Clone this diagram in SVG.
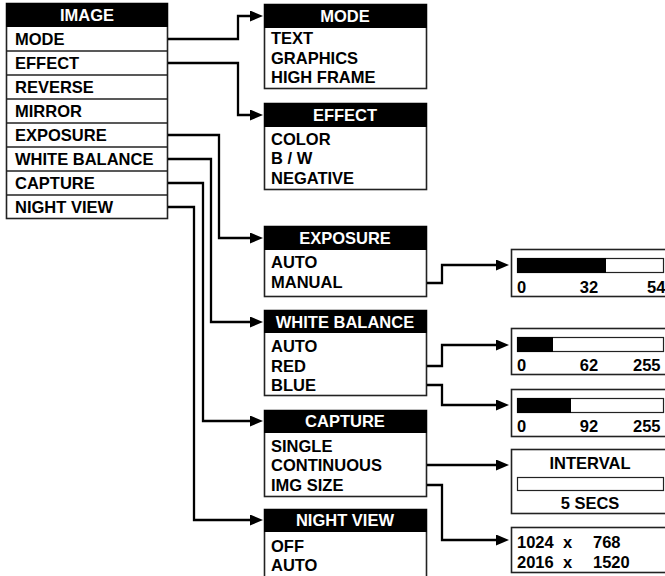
<svg xmlns="http://www.w3.org/2000/svg" width="665" height="576" viewBox="0 0 665 576">
<defs>
<style>
text{font-family:"Liberation Sans",Arial,sans-serif;font-weight:bold;font-size:16.5px;fill:#000}
.h{fill:#fff;text-anchor:middle}
.c{text-anchor:middle}
.box{fill:#fff;stroke:#222;stroke-width:1.6}
.hd{fill:#000}
.div{stroke:#222;stroke-width:1.6}
.ln{fill:none;stroke:#000;stroke-width:2.3;stroke-linejoin:miter}
.bar{fill:#fff;stroke:#222;stroke-width:1.2}
</style>
<marker id="ar" markerUnits="userSpaceOnUse" markerWidth="15" markerHeight="12" refX="7" refY="5.5" orient="auto">
<path d="M0,0 L13,5.5 L0,11 z" fill="#000"/>
</marker>
</defs>
<rect width="665" height="576" fill="#fff"/>

<g id="image">
<rect class="box" x="6.5" y="3.5" width="161" height="215"/>
<rect class="hd" x="6" y="3" width="162" height="24"/>
<line class="div" x1="6" y1="51" x2="168" y2="51"/>
<line class="div" x1="6" y1="75" x2="168" y2="75"/>
<line class="div" x1="6" y1="99" x2="168" y2="99"/>
<line class="div" x1="6" y1="123" x2="168" y2="123"/>
<line class="div" x1="6" y1="147" x2="168" y2="147"/>
<line class="div" x1="6" y1="171" x2="168" y2="171"/>
<line class="div" x1="6" y1="195" x2="168" y2="195"/>
<text class="h" x="87" y="21">IMAGE</text>
<text x="15" y="45">MODE</text>
<text x="15" y="69">EFFECT</text>
<text x="15" y="93">REVERSE</text>
<text x="15" y="117">MIRROR</text>
<text x="15" y="141">EXPOSURE</text>
<text x="15" y="165">WHITE BALANCE</text>
<text x="15" y="189">CAPTURE</text>
<text x="15" y="213">NIGHT VIEW</text>
</g>

<g id="mode">
<rect class="box" x="264.5" y="4.5" width="162" height="84"/>
<rect class="hd" x="264" y="4" width="163" height="24"/>
<text class="h" x="345" y="22">MODE</text>
<text x="271" y="44">TEXT</text>
<text x="271" y="64">GRAPHICS</text>
<text x="271" y="83">HIGH FRAME</text>
</g>

<g id="effect">
<rect class="box" x="264.5" y="103.5" width="162" height="86"/>
<rect class="hd" x="264" y="103" width="163" height="24"/>
<text class="h" x="345" y="121">EFFECT</text>
<text x="271" y="145">COLOR</text>
<text x="271" y="164">B / W</text>
<text x="271" y="184">NEGATIVE</text>
</g>

<g id="exposure">
<rect class="box" x="264.5" y="226.5" width="162" height="70"/>
<rect class="hd" x="264" y="226" width="163" height="24"/>
<text class="h" x="345" y="244">EXPOSURE</text>
<text x="271" y="268">AUTO</text>
<text x="271" y="288">MANUAL</text>
</g>

<g id="whitebalance">
<rect class="box" x="264.5" y="310.5" width="162" height="85"/>
<rect class="hd" x="264" y="310" width="163" height="23"/>
<text class="h" x="345" y="328">WHITE BALANCE</text>
<text x="271" y="352">AUTO</text>
<text x="271" y="372">RED</text>
<text x="271" y="391">BLUE</text>
</g>

<g id="capture">
<rect class="box" x="264.5" y="410.5" width="162" height="86"/>
<rect class="hd" x="264" y="410" width="163" height="23"/>
<text class="h" x="345" y="427">CAPTURE</text>
<text x="271" y="452">SINGLE</text>
<text x="271" y="471">CONTINUOUS</text>
<text x="271" y="491">IMG SIZE</text>
</g>

<g id="nightview">
<rect class="box" x="264.5" y="509.5" width="162" height="80"/>
<rect class="hd" x="264" y="509" width="163" height="23"/>
<text class="h" x="345" y="526">NIGHT VIEW</text>
<text x="271" y="552">OFF</text>
<text x="271" y="571">AUTO</text>
</g>

<g id="exposure-slider">
<rect class="box" x="511.5" y="249.5" width="170" height="47"/>
<rect class="bar" x="517.5" y="258.5" width="146" height="14"/>
<rect class="hd" x="517" y="258" width="89" height="15"/>
<text x="517" y="293">0</text>
<text class="c" x="589" y="293">32</text>
<text x="647" y="293">54</text>
</g>

<g id="red-slider">
<rect class="box" x="511.5" y="328.5" width="170" height="46"/>
<rect class="bar" x="517.5" y="337.5" width="146" height="14"/>
<rect class="hd" x="517" y="337" width="36" height="15"/>
<text x="517" y="371">0</text>
<text class="c" x="589" y="371">62</text>
<text x="633" y="371">255</text>
</g>

<g id="blue-slider">
<rect class="box" x="511.5" y="389.5" width="170" height="47"/>
<rect class="bar" x="517.5" y="398.5" width="146" height="14"/>
<rect class="hd" x="517" y="398" width="54" height="15"/>
<text x="517" y="432">0</text>
<text class="c" x="589" y="432">92</text>
<text x="633" y="432">255</text>
</g>

<g id="interval">
<rect class="box" x="511.5" y="449.5" width="170" height="64"/>
<text class="c" x="590" y="469">INTERVAL</text>
<rect class="bar" x="517.5" y="477.5" width="146" height="13"/>
<text class="c" x="590" y="509">5 SECS</text>
</g>

<g id="imgsize">
<rect class="box" x="511.5" y="527.5" width="170" height="45"/>
<text x="517" y="548">1024</text>
<text x="563" y="548">x</text>
<text x="593" y="548">768</text>
<text x="517" y="568">2016</text>
<text x="563" y="568">x</text>
<text x="593" y="568">1520</text>
</g>

<g id="connectors">
<path class="ln" d="M168,39 H238 V16 H257" marker-end="url(#ar)"/>
<path class="ln" d="M168,63 H238 V115 H257" marker-end="url(#ar)"/>
<path class="ln" d="M168,135 H219 V238 H257" marker-end="url(#ar)"/>
<path class="ln" d="M168,159 H211 V322 H257" marker-end="url(#ar)"/>
<path class="ln" d="M168,183 H203 V421 H257" marker-end="url(#ar)"/>
<path class="ln" d="M168,207 H194 V520 H257" marker-end="url(#ar)"/>
<path class="ln" d="M427,283 H442 V265 H503" marker-end="url(#ar)"/>
<path class="ln" d="M427,366 H442 V345 H503" marker-end="url(#ar)"/>
<path class="ln" d="M427,385 H442 V405 H503" marker-end="url(#ar)"/>
<path class="ln" d="M427,465 H503" marker-end="url(#ar)"/>
<path class="ln" d="M427,485 H442 V540 H503" marker-end="url(#ar)"/>
</g>
</svg>
